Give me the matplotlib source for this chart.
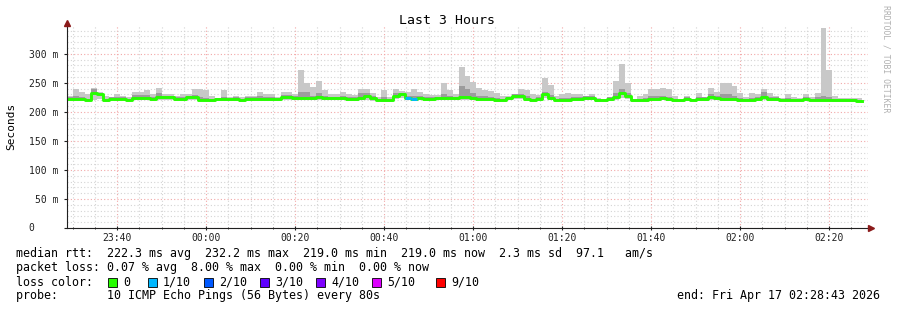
import matplotlib
matplotlib.use('Agg')
import matplotlib.pyplot as plt
import matplotlib.dates as mdates
import matplotlib.transforms as mtransforms
from matplotlib.ticker import MultipleLocator, FuncFormatter
from matplotlib.patches import Rectangle
from datetime import datetime, timedelta
import numpy as np

# ---- data, one value per 80 s step (ms) ----
median = [223, 223, 223, 221, 232, 230, 220, 223, 223, 223, 221, 224, 224, 224, 223, 225, 225, 225, 223, 223, 225, 225,
          221, 221, 220, 223, 223, 223, 223, 221, 223, 223, 223, 223, 223, 223, 225, 226, 224, 224, 224, 224, 225, 224, 224,
          224, 224, 223, 223, 224, 228, 224, 221, 220, 220, 228, 230, 224, 223, 224, 223, 223, 224, 224, 224, 224, 225, 225,
          224, 223, 223, 223, 221, 221, 224, 228, 227, 223, 221, 223, 230, 224, 221, 221, 221, 223, 223, 224, 224, 220, 220, 223,
          225, 232, 228, 220, 221, 221, 223, 223, 224, 223, 221, 220, 223, 221, 223, 223, 225, 224, 223, 223, 223,
          221, 221, 221, 223, 226, 223, 223, 221, 221, 221, 221, 223, 221, 221, 221, 221, 220, 220, 220, 220, 219]
smoke_max = [228, 239, 235, 230, 242, 235, 227, 226, 230, 228, 226, 235, 235, 237, 231, 242, 231, 231, 227, 231, 231, 239,
             239, 237, 228, 224, 237, 225, 228, 225, 228, 228, 235, 230, 231, 225, 235, 235, 231, 272, 249, 243, 254, 237, 231,
             231, 235, 231, 229, 240, 240, 233, 225, 237, 225, 240, 236, 235, 239, 235, 231, 229, 229, 250, 237, 231, 278, 262,
             251, 242, 237, 236, 233, 228, 227, 230, 239, 237, 230, 229, 258, 247, 228, 231, 233, 230, 231, 227, 231, 224, 222, 226,
             253, 282, 250, 222, 227, 231, 240, 240, 242, 239, 228, 222, 227, 222, 232, 225, 242, 235, 250, 250, 245,
             233, 225, 233, 230, 240, 233, 228, 224, 230, 226, 224, 230, 226, 233, 345, 273, 227, 224, 224, 224, 224]
smoke_min = [219, 219, 219, 218, 221, 223, 217, 220, 219, 220, 218, 220, 220, 220, 218, 221, 221, 221, 219, 219, 221, 220,
             218, 218, 217, 219, 219, 219, 219, 217, 219, 219, 219, 219, 219, 219, 220, 221, 220, 220, 220, 220, 220, 220, 220,
             220, 220, 219, 219, 220, 221, 219, 218, 217, 217, 222, 224, 220, 219, 220, 219, 219, 220, 220, 220, 220, 220, 220,
             220, 219, 219, 219, 217, 217, 220, 223, 222, 219, 217, 219, 224, 220, 218, 218, 218, 219, 219, 220, 220, 217, 217, 219,
             220, 224, 222, 217, 217, 217, 219, 219, 220, 219, 217, 217, 219, 218, 219, 219, 220, 220, 219, 219, 219,
             218, 218, 218, 219, 221, 219, 219, 218, 218, 218, 218, 219, 218, 218, 218, 218, 217, 217, 217, 217, 217]
smoke_q3 = [225, 228, 226, 223, 240, 233, 222, 225, 226, 225, 223, 229, 229, 229, 225, 232, 227, 227, 225, 226, 227, 229,
            225, 224, 222, 223, 226, 223, 225, 223, 225, 225, 227, 226, 226, 223, 229, 229, 227, 235, 235, 228, 232, 227, 226,
            226, 227, 226, 225, 232, 232, 227, 223, 226, 222, 232, 233, 228, 227, 227, 226, 225, 226, 230, 227, 226, 245, 240,
            233, 228, 227, 226, 224, 223, 226, 230, 230, 227, 223, 225, 235, 229, 223, 224, 224, 225, 226, 227, 227, 222, 221, 225,
            233, 240, 233, 221, 223, 224, 227, 227, 228, 226, 223, 221, 225, 223, 226, 225, 230, 228, 230, 230, 227,
            224, 223, 224, 226, 235, 226, 225, 222, 224, 223, 222, 225, 223, 226, 228, 226, 222, 222, 222, 222, 221]
# pings lost (of 10) per step, only non-zero steps listed
loss_steps = {57: 1, 58: 1}

loss_labels = ['0', '1/10', '2/10', '3/10', '4/10', '5/10', '9/10']
loss_colors = ['#26ff00', '#00b8ff', '#0059ff', '#5e00ff', '#7e00ff', '#dd00ff', '#ff0000']

start = datetime(2026, 4, 16, 23, 28, 43)
end = datetime(2026, 4, 17, 2, 28, 43)
step_s = 80

W, H = 897, 310
mono = 'DejaVu Sans Mono'

fig = plt.figure(figsize=(W / 100, H / 100), dpi=100)
fig.patch.set_facecolor('white')
ax = fig.add_axes([67 / W, (H - 228) / H, (868 - 67) / W, (228 - 26) / H])

n = len(median)
edges = mdates.date2num([start + timedelta(seconds=step_s * i) for i in range(n + 1)])


def ext(a):
    a = np.asarray(a, dtype=float)
    return np.append(a, a[-1])


ax.fill_between(edges, ext(smoke_min), ext(smoke_max), step='post', color='#c8c8c8', lw=0, zorder=2)
ax.fill_between(edges, ext(median), ext(smoke_q3), step='post', color='#9c9c9c', lw=0, zorder=3)
ax.step(edges, ext(median), where='post', color=loss_colors[0], lw=2.1, zorder=4)
for i, l in loss_steps.items():
    ax.hlines(median[i], edges[i], edges[i + 1], color=loss_colors[l], lw=2.1, zorder=5)

ax.set_xlim(mdates.date2num(start), mdates.date2num(end))
ax.set_ylim(0, 348)

ax.xaxis.set_major_locator(mdates.MinuteLocator(byminute=[0, 20, 40]))
ax.xaxis.set_minor_locator(mdates.MinuteLocator(byminute=range(0, 60, 5)))
ax.xaxis.set_major_formatter(mdates.DateFormatter('%H:%M'))
ax.yaxis.set_major_locator(MultipleLocator(50))
ax.yaxis.set_minor_locator(MultipleLocator(10))
ax.yaxis.set_major_formatter(FuncFormatter(lambda v, p: '' if v == 0 else '%d m' % v))

ax.set_axisbelow(True)
ax.grid(which='major', color='#f2a8a8', ls=(0, (1, 2)), lw=0.8)
ax.grid(which='minor', color='#d4d4d4', ls=(0, (1, 2)), lw=0.8)

for s in ['top', 'right']:
    ax.spines[s].set_visible(False)
for s in ['left', 'bottom']:
    ax.spines[s].set_color('#202020')
    ax.spines[s].set_linewidth(0.8)
    ax.spines[s].set_zorder(6)

ax.tick_params(axis='both', which='both', labelsize=7, colors='#202020')
for t in ax.get_xticklabels() + ax.get_yticklabels():
    t.set_fontfamily(mono)
ax.tick_params(axis='y', which='major', direction='out', length=2, pad=4)
ax.tick_params(axis='y', which='minor', length=0)
ax.tick_params(axis='x', which='major', direction='inout', length=3, pad=2)
ax.tick_params(axis='x', which='minor', direction='inout', length=2)

# arrows at axis ends
up = mtransforms.offset_copy(ax.transAxes, fig=fig, x=0, y=3, units='dots')
right = mtransforms.offset_copy(ax.transAxes, fig=fig, x=3, y=0, units='dots')
ax.plot(0, 1, marker='^', ms=4.5, color='#8b1a1a', transform=up, clip_on=False, zorder=7)
ax.plot(1, 0, marker='>', ms=4.5, color='#8b1a1a', transform=right, clip_on=False, zorder=7)


def px(x, y):
    return x / W, 1 - y / H


fig.text(*px(31, 228), '0', fontfamily=mono, fontsize=7, ha='center', va='center', color='#202020')
fig.text(*px(447, 20), 'Last 3 Hours', fontfamily=mono, fontsize=9.5, ha='center', va='center')
fig.text(*px(11, 126), 'Seconds', fontfamily=mono, fontsize=8, rotation=90, ha='center', va='center')
fig.text(*px(886, 59), 'RRDTOOL / TOBI OETIKER', fontfamily=mono, fontsize=5.9, rotation=270,
         ha='center', va='center', color='#b0b0b0')

fs = 8.4
fig.text(*px(16, 254), 'median rtt:  222.3 ms avg  232.2 ms max  219.0 ms min  219.0 ms now  2.3 ms sd  97.1   am/s',
         fontfamily=mono, fontsize=fs, va='center')
fig.text(*px(16, 268), 'packet loss: 0.07 % avg  8.00 % max  0.00 % min  0.00 % now',
         fontfamily=mono, fontsize=fs, va='center')
fig.text(*px(16, 282), 'loss color:', fontfamily=mono, fontsize=fs, va='center')
box_x = [108, 148, 204, 260, 316, 372, 436]
for bx, lab, col in zip(box_x, loss_labels, loss_colors):
    fig.add_artist(Rectangle(px(bx, 286.5), 9 / W, 9 / H, transform=fig.transFigure,
                             facecolor=col, edgecolor='black', lw=0.6))
    fig.text(*px(bx + 15, 282), lab, fontfamily=mono, fontsize=fs, va='center')
fig.text(*px(16, 296), 'probe:       10 ICMP Echo Pings (56 Bytes) every 80s',
         fontfamily=mono, fontsize=fs, va='center')
fig.text(*px(880, 296), 'end: Fri Apr 17 02:28:43 2026', fontfamily=mono, fontsize=fs, ha='right', va='center')

fig.savefig('out.png', dpi=100, facecolor='white')
